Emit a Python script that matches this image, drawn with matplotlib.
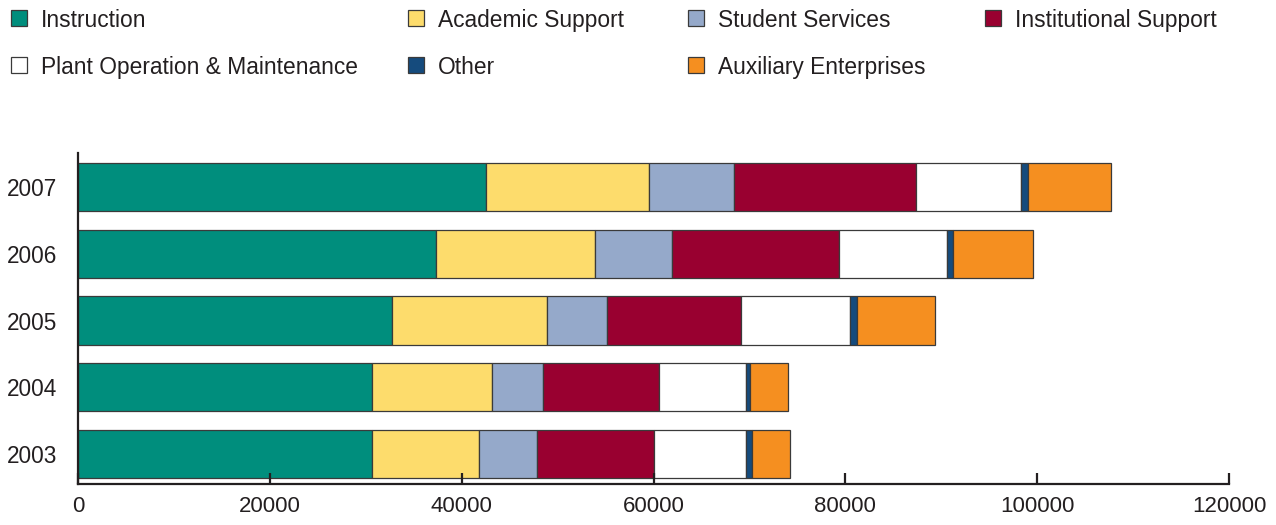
import numpy as np
import matplotlib.pyplot as plt
from matplotlib.patches import Rectangle

plt.rcParams['font.family'] = ['Liberation Sans', 'DejaVu Sans']

# Data (thousands of dollars)
years = ['2003', '2004', '2005', '2006', '2007']
categories = ['Instruction', 'Academic Support', 'Student Services', 'Institutional Support',
              'Plant Operation & Maintenance', 'Other', 'Auxiliary Enterprises']
instruction = [30700, 30700, 32700, 37350, 42500]
academic_support = [11100, 12500, 16200, 16550, 17000]
student_services = [6100, 5300, 6300, 8000, 8900]
institutional_support = [12100, 12100, 13900, 17400, 19000]
plant_operation = [9600, 9000, 11400, 11300, 10900]
other = [700, 500, 700, 600, 700]
auxiliary = [3900, 3900, 8100, 8400, 8700]

series = [instruction, academic_support, student_services, institutional_support,
          plant_operation, other, auxiliary]
colors = ['#008e7d', '#fddc6c', '#95a9ca', '#990030', '#ffffff', '#154b7d', '#f58f20']

W, H = 1276, 525
fig = plt.figure(figsize=(W / 100, H / 100), dpi=100)
ax = fig.add_axes([78 / W, 1 - 484 / H, (1229 - 78) / W, (484 - 153) / H])

y = np.arange(len(years))
left = np.zeros(len(years))
for vals, col in zip(series, colors):
    ax.barh(y, vals, left=left, height=0.72, color=col, edgecolor='#3a3a3a', linewidth=0.9)
    left += np.array(vals)

ax.set_xlim(0, 120000)
ax.set_ylim(-0.45, 4.51)
ax.set_xticks(np.arange(0, 120001, 20000))
ax.set_yticks(y)
ax.set_yticklabels(years)

for s in ['top', 'right']:
    ax.spines[s].set_visible(False)
for s in ['left', 'bottom']:
    ax.spines[s].set_linewidth(1.6)
    ax.spines[s].set_color('#231f20')

ax.tick_params(axis='x', direction='in', length=8, width=1.6, color='#231f20',
               labelsize=16, labelcolor='#231f20', pad=9)
ax.tick_params(axis='y', length=0, labelsize=16.3, labelcolor='#231f20', pad=15)
# year labels sit a little below the bar centres in the original
for lbl in ax.get_yticklabels():
    lbl.set_verticalalignment('center_baseline')

# legend laid out by hand: 4 columns on the first row, 3 on the second
col_x = [11, 408, 688, 985]
row_base = [27, 74]
box = 16
for i, (name, col) in enumerate(zip(categories, colors)):
    r, c = divmod(i, 4)
    x0 = col_x[c]
    yb = row_base[r]
    fig.add_artist(Rectangle((x0 / W, 1 - (yb - 1) / H), box / W, box / H,
                             transform=fig.transFigure, facecolor=col,
                             edgecolor='#3a3a3a', linewidth=0.9))
    fig.text((x0 + 30) / W, 1 - yb / H, name, fontsize=16.4, color='#231f20',
             ha='left', va='baseline')

fig.savefig('out.png', dpi=100)
